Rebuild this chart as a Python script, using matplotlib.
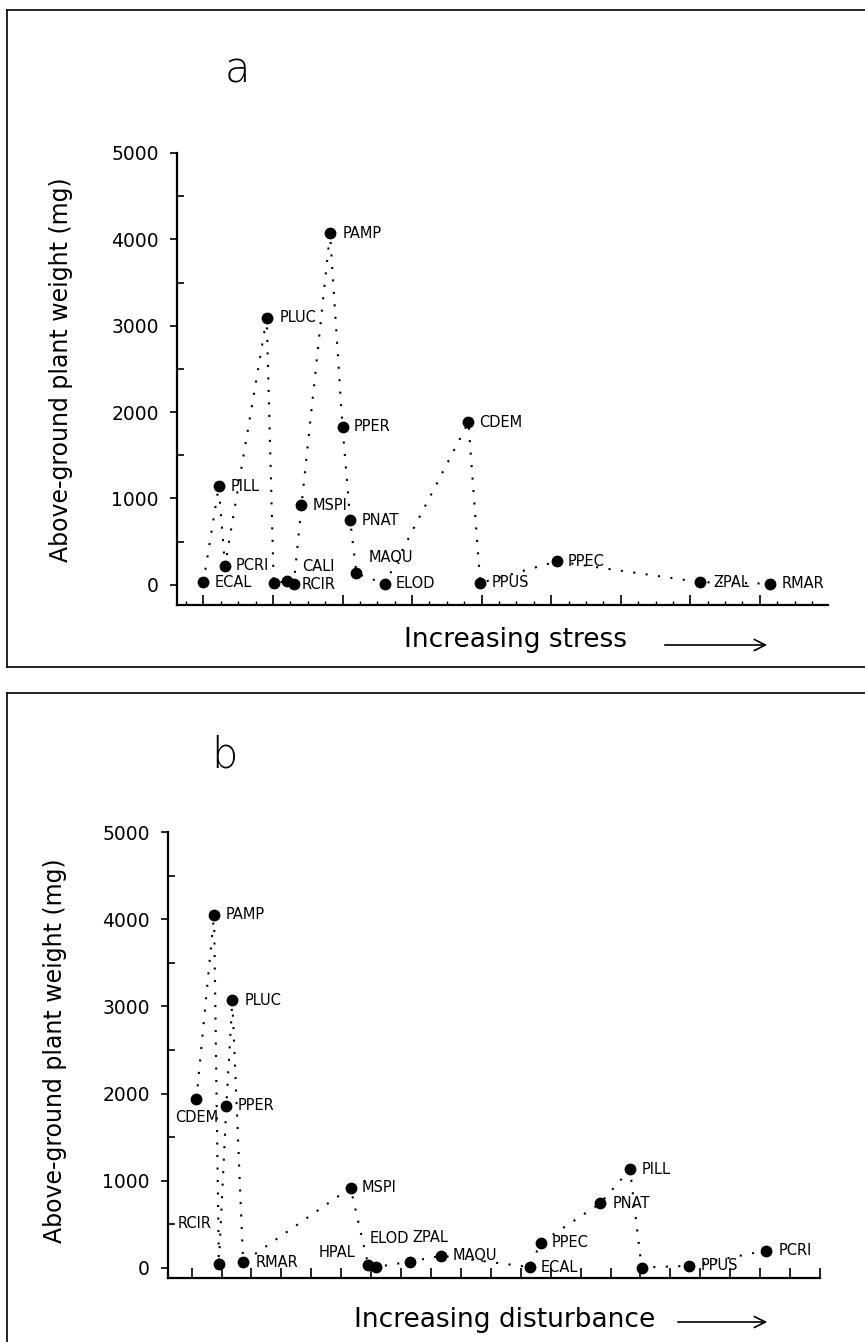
import matplotlib
matplotlib.use("Agg")
import matplotlib.pyplot as plt
from matplotlib.lines import Line2D
from matplotlib.ticker import MultipleLocator

# ---- data -------------------------------------------------------------
# (a) species ordered along the stress gradient
stress_species = ["ECAL", "PILL", "PCRI", "PLUC", "", "CALI", "RCIR", "MSPI",
                  "PAMP", "PPER", "PNAT", "MAQU", "ELOD", "CDEM", "PPUS",
                  "PPEC", "ZPAL", "RMAR"]
stress_pos = [1.00, 1.22, 1.31, 1.91, 2.01, 2.20, 2.30, 2.41, 2.82, 3.00,
              3.11, 3.20, 3.61, 4.81, 4.98, 6.08, 8.14, 9.15]
stress_weight = [30, 1140, 220, 3090, 20, 40, 10, 920, 4070, 1830, 745, 130,
                 10, 1880, 20, 270, 30, 12]

# (b) species ordered along the disturbance gradient
disturb_species = ["CDEM", "PAMP", "RCIR", "PPER", "PLUC", "RMAR", "MSPI",
                   "HPAL", "ELOD", "ZPAL", "MAQU", "ECAL", "PPEC", "PNAT",
                   "PILL", "", "PPUS", "PCRI"]
disturb_pos = [1.16, 1.75, 1.91, 2.16, 2.36, 2.72, 6.31, 6.90, 7.15, 8.29,
               9.35, 12.30, 12.67, 14.65, 15.65, 16.04, 17.63, 20.20]
disturb_weight = [1940, 4050, 45, 1860, 3070, 65, 920, 35, 10, 73, 140, 10,
                  290, 740, 1130, 5, 25, 200]

y_ticks = [0, 1000, 2000, 3000, 4000, 5000]

# ---- label placement (pixel offsets, alignment) ------------------------
default_off = (11, 0, "left")
stress_label_off = {"PILL": (12, 0, "left"), "PLUC": (13, 0, "left"),
                    "CALI": (15, 15, "left"), "RCIR": (8, -1, "left"),
                    "PAMP": (13, 0, "left"), "MAQU": (12, 16, "left"),
                    "ZPAL": (13, 0, "left")}
disturb_label_off = {"CDEM": (0, -19, "center"), "RCIR": (-7, 41, "right"),
                     "HPAL": (-13, 12, "right"), "ELOD": (-6, 29, "left"),
                     "ZPAL": (3, 24, "left"), "RMAR": (13, 0, "left"),
                     "PNAT": (13, 0, "left"), "PILL": (12, 0, "left"),
                     "PCRI": (12, 0, "left"), "PAMP": (12, 0, "left"),
                     "PLUC": (12, 0, "left")}

W, H = 865, 1342
fig = plt.figure(figsize=(W / 100, H / 100), dpi=100)
plt.rcParams["font.family"] = ["DejaVu Sans"]


def px_rect(left, top, right, bottom):
    return [left / W, 1 - bottom / H, (right - left) / W, (bottom - top) / H]


def draw_panel(ax, pos, weight, names, offsets, xlim, ylim, xminor):
    ax.plot(pos, weight, linestyle=(0, (1, 5)), color="black", lw=1.5,
            dash_capstyle="butt", zorder=1)
    ax.plot(pos, weight, linestyle="none", marker="o", ms=7.5,
            color="black", zorder=2)
    for x, y, name in zip(pos, weight, names):
        if not name:
            continue
        dx, dy, ha = offsets.get(name, default_off)
        ax.annotate(name, (x, y), xytext=(dx, dy), textcoords="offset pixels",
                    ha=ha, va="center", fontsize=10.5)
    ax.set_xlim(*xlim)
    ax.set_ylim(*ylim)
    for side in ("top", "right"):
        ax.spines[side].set_visible(False)
    for side in ("left", "bottom"):
        ax.spines[side].set_linewidth(1.6)
    ax.set_yticks(y_ticks)
    ax.set_yticklabels([str(t) for t in y_ticks])
    ax.yaxis.set_minor_locator(MultipleLocator(500))
    ax.tick_params(axis="y", which="major", direction="out", length=5,
                   width=1.2, labelsize=13.5, pad=8)
    ax.tick_params(axis="y", which="minor", direction="in", length=5,
                   width=1.2)
    ax.xaxis.set_major_locator(MultipleLocator(1))
    if xminor:
        ax.xaxis.set_minor_locator(MultipleLocator(xminor))
    ax.tick_params(axis="x", which="major", direction="in", length=7,
                   width=1.2, labelbottom=False)
    ax.tick_params(axis="x", which="minor", direction="in", length=3,
                   width=1.0)
    ax.set_ylabel("Above-ground plant weight (mg)", fontsize=17)


# panel (a)
ax_a = fig.add_axes(px_rect(177, 153, 828, 605))
draw_panel(ax_a, stress_pos, stress_weight, stress_species, stress_label_off,
           (0.62, 9.98), (-235, 5000), 0.25)
ax_a.yaxis.set_label_coords(-0.16, 0.52)

# panel (b)
ax_b = fig.add_axes(px_rect(168, 832, 820, 1278))
draw_panel(ax_b, disturb_pos, disturb_weight, disturb_species,
           disturb_label_off, (0.21, 22.0), (-115, 5000), None)
ax_b.yaxis.set_label_coords(-0.155, 0.51)

# panel letters
fig.text(237 / W, 1 - 70 / H, "a", fontsize=30, fontweight="light",
         ha="center", va="center")
fig.text(224 / W, 1 - 755 / H, "b", fontsize=30, fontweight="light",
         ha="center", va="center")

# gradient captions with arrows
fig.text(515 / W, 1 - 640 / H, "Increasing stress", fontsize=19,
         ha="center", va="center")
fig.text(505 / W, 1 - 1320 / H, "Increasing disturbance", fontsize=19,
         ha="center", va="center")
for (x0, x1, y) in [(662, 770, 645), (675, 770, 1322)]:
    fig.add_artist(matplotlib.patches.FancyArrowPatch(
        (x0 / W, 1 - y / H), (x1 / W, 1 - y / H), transform=fig.transFigure,
        arrowstyle="->,head_length=8,head_width=4", color="black", lw=1.2))

# frame lines around each panel
frame = [((7, 865), (10, 10)), ((7, 7), (10, 667)), ((7, 865), (667, 667)),
         ((7, 865), (693, 693)), ((7, 7), (693, 1342))]
for xs, ys in frame:
    fig.add_artist(Line2D([x / W for x in xs], [1 - y / H for y in ys],
                          transform=fig.transFigure, color="black", lw=1.2))

fig.savefig("out.png", dpi=100)
